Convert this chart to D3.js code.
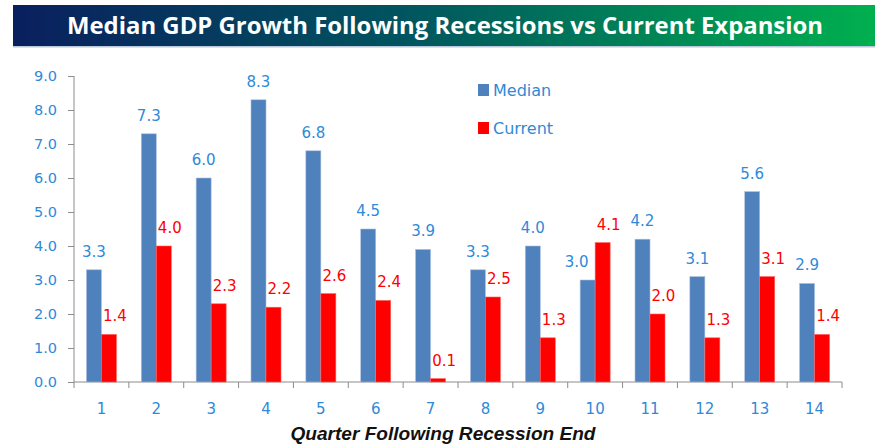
<!DOCTYPE html>
<html>
<head>
<meta charset="utf-8">
<script src="https://cdn.jsdelivr.net/npm/d3@7"></script>
<style>
  body { margin: 0; background: #fff; }
  svg { display: block; }
  .tick text { fill: #2e8ad8; font-family: "DejaVu Sans", Verdana, sans-serif; font-size: 14.5px; }
  .x-axis .tick text { font-size: 15px; }
  .tick line, .domain { stroke: #8c8c8c; }
</style>
</head>
<body>
<div class="container"></div>
<script>
const quarters = ["1","2","3","4","5","6","7","8","9","10","11","12","13","14"];
const median = [3.3, 7.3, 6.0, 8.3, 6.8, 4.5, 3.9, 3.3, 4.0, 3.0, 4.2, 3.1, 5.6, 2.9];
const current = [1.4, 4.0, 2.3, 2.2, 2.6, 2.4, 0.1, 2.5, 1.3, 4.1, 2.0, 1.3, 3.1, 1.4];
const yTicks = [0, 1, 2, 3, 4, 5, 6, 7, 8, 9];
const seriesNames = ["Median", "Current"];
const colors = { Median: "#4f81bd", Current: "#ff0000" };
const labelColors = { Median: "#2e8ad8", Current: "#ff0000" };

const width = 875, height = 445;
const format = d3.format(".1f");

const svg = d3.select(".container")
    .append("svg")
    .attr("width", width)
    .attr("height", height);

// title bar
const grad = svg.append("defs").append("linearGradient")
    .attr("id", "titleGrad");
grad.append("stop").attr("offset", "0%").attr("stop-color", "#0a1f5e");
grad.append("stop").attr("offset", "45%").attr("stop-color", "#01545f");
grad.append("stop").attr("offset", "100%").attr("stop-color", "#00b04f");

svg.append("rect")
    .attr("x", 13).attr("y", 5)
    .attr("width", width - 13).attr("height", 41)
    .attr("fill", "url(#titleGrad)");
svg.append("rect")
    .attr("x", 13).attr("y", 46)
    .attr("width", width - 13).attr("height", 1.5)
    .attr("fill", "#b8c8d8");

svg.append("text")
    .attr("x", 445).attr("y", 34)
    .attr("text-anchor", "middle")
    .attr("font-family", "'Open Sans', sans-serif")
    .attr("font-weight", "bold")
    .attr("font-size", 24)
    .attr("fill", "#fff")
    .attr("textLength", 756)
    .attr("lengthAdjust", "spacingAndGlyphs")
    .text("Median GDP Growth Following Recessions vs Current Expansion");

// scales
const xScale = d3.scaleBand()
    .domain(quarters)
    .range([74, 842]);

const xInner = d3.scaleBand()
    .domain(seriesNames)
    .range([-15, 15]);

const yScale = d3.scaleLinear()
    .domain([0, 9])
    .range([382, 76]);

// axes
svg.append("g")
    .attr("transform", "translate(74,0)")
    .call(d3.axisLeft(yScale).tickValues(yTicks).tickFormat(format).tickSize(6).tickPadding(11))
    .call(g => g.select(".domain").attr("d", `M0,${yScale(9)}V${yScale(0)}`));

const xAxis = svg.append("g")
    .attr("class", "x-axis")
    .attr("transform", `translate(0,${yScale(0)})`)
    .call(d3.axisBottom(xScale).tickSize(0).tickPadding(21));
xAxis.select(".domain").attr("d", "M74,0H842");
xAxis.selectAll(".sep")
    .data(d3.range(quarters.length + 1))
    .join("line")
    .classed("sep", true)
    .attr("x1", i => 74 + i * xScale.bandwidth())
    .attr("x2", i => 74 + i * xScale.bandwidth())
    .attr("y1", 0).attr("y2", 6)
    .attr("stroke", "#8c8c8c");

// bars
const rows = quarters.map((q, i) => ({ q, Median: median[i], Current: current[i] }));
const flat = rows.flatMap(r => seriesNames.map(s => ({ q: r.q, s, v: r[s], other: s === "Median" ? r.Current : r.Median })));

svg.selectAll(".bar")
    .data(flat)
    .join("rect")
    .classed("bar", true)
    .attr("x", d => xScale(d.q) + xScale.bandwidth() / 2 + xInner(d.s))
    .attr("y", d => yScale(d.v))
    .attr("width", xInner.bandwidth())
    .attr("height", d => yScale(0) - yScale(d.v))
    .attr("fill", d => colors[d.s])
    .attr("stroke", d => d.s === "Median" ? "#a9c0e0" : "#ff6060")
    .attr("stroke-width", 0.6);

// label offset: current labels sit a bit right, median labels move left when the red bar is taller
function labelShift(d) {
    if (d.s === "Current") return 6;
    return d.other > d.v ? -11 : 0;
}

svg.selectAll(".val")
    .data(flat)
    .join("text")
    .classed("val", true)
    .attr("x", d => xScale(d.q) + xScale.bandwidth() / 2 + xInner(d.s) + xInner.bandwidth() / 2 + labelShift(d))
    .attr("y", d => yScale(d.v) - 13)
    .attr("text-anchor", "middle")
    .attr("font-family", "'DejaVu Sans', Verdana, sans-serif")
    .attr("font-size", 15)
    .attr("fill", d => labelColors[d.s])
    .text(d => format(d.v));

// legend
const legend = svg.selectAll(".legend")
    .data(seriesNames)
    .join("g")
    .classed("legend", true)
    .attr("transform", (d, i) => `translate(478,${84 + i * 38})`);
legend.append("rect")
    .attr("width", 11).attr("height", 12)
    .attr("fill", d => colors[d]);
legend.append("text")
    .attr("x", 15).attr("y", 12)
    .attr("font-family", "'DejaVu Sans', Verdana, sans-serif")
    .attr("font-size", 16)
    .attr("fill", "#2e8ad8")
    .text(d => d);

// axis title
svg.append("text")
    .attr("x", 443).attr("y", 440)
    .attr("text-anchor", "middle")
    .attr("font-family", "'Liberation Sans', Arial, sans-serif")
    .attr("font-weight", "bold")
    .attr("font-style", "italic")
    .attr("font-size", 18)
    .attr("fill", "#111")
    .attr("textLength", 305)
    .attr("lengthAdjust", "spacingAndGlyphs")
    .text("Quarter Following Recession End");
</script>
</body>
</html>
